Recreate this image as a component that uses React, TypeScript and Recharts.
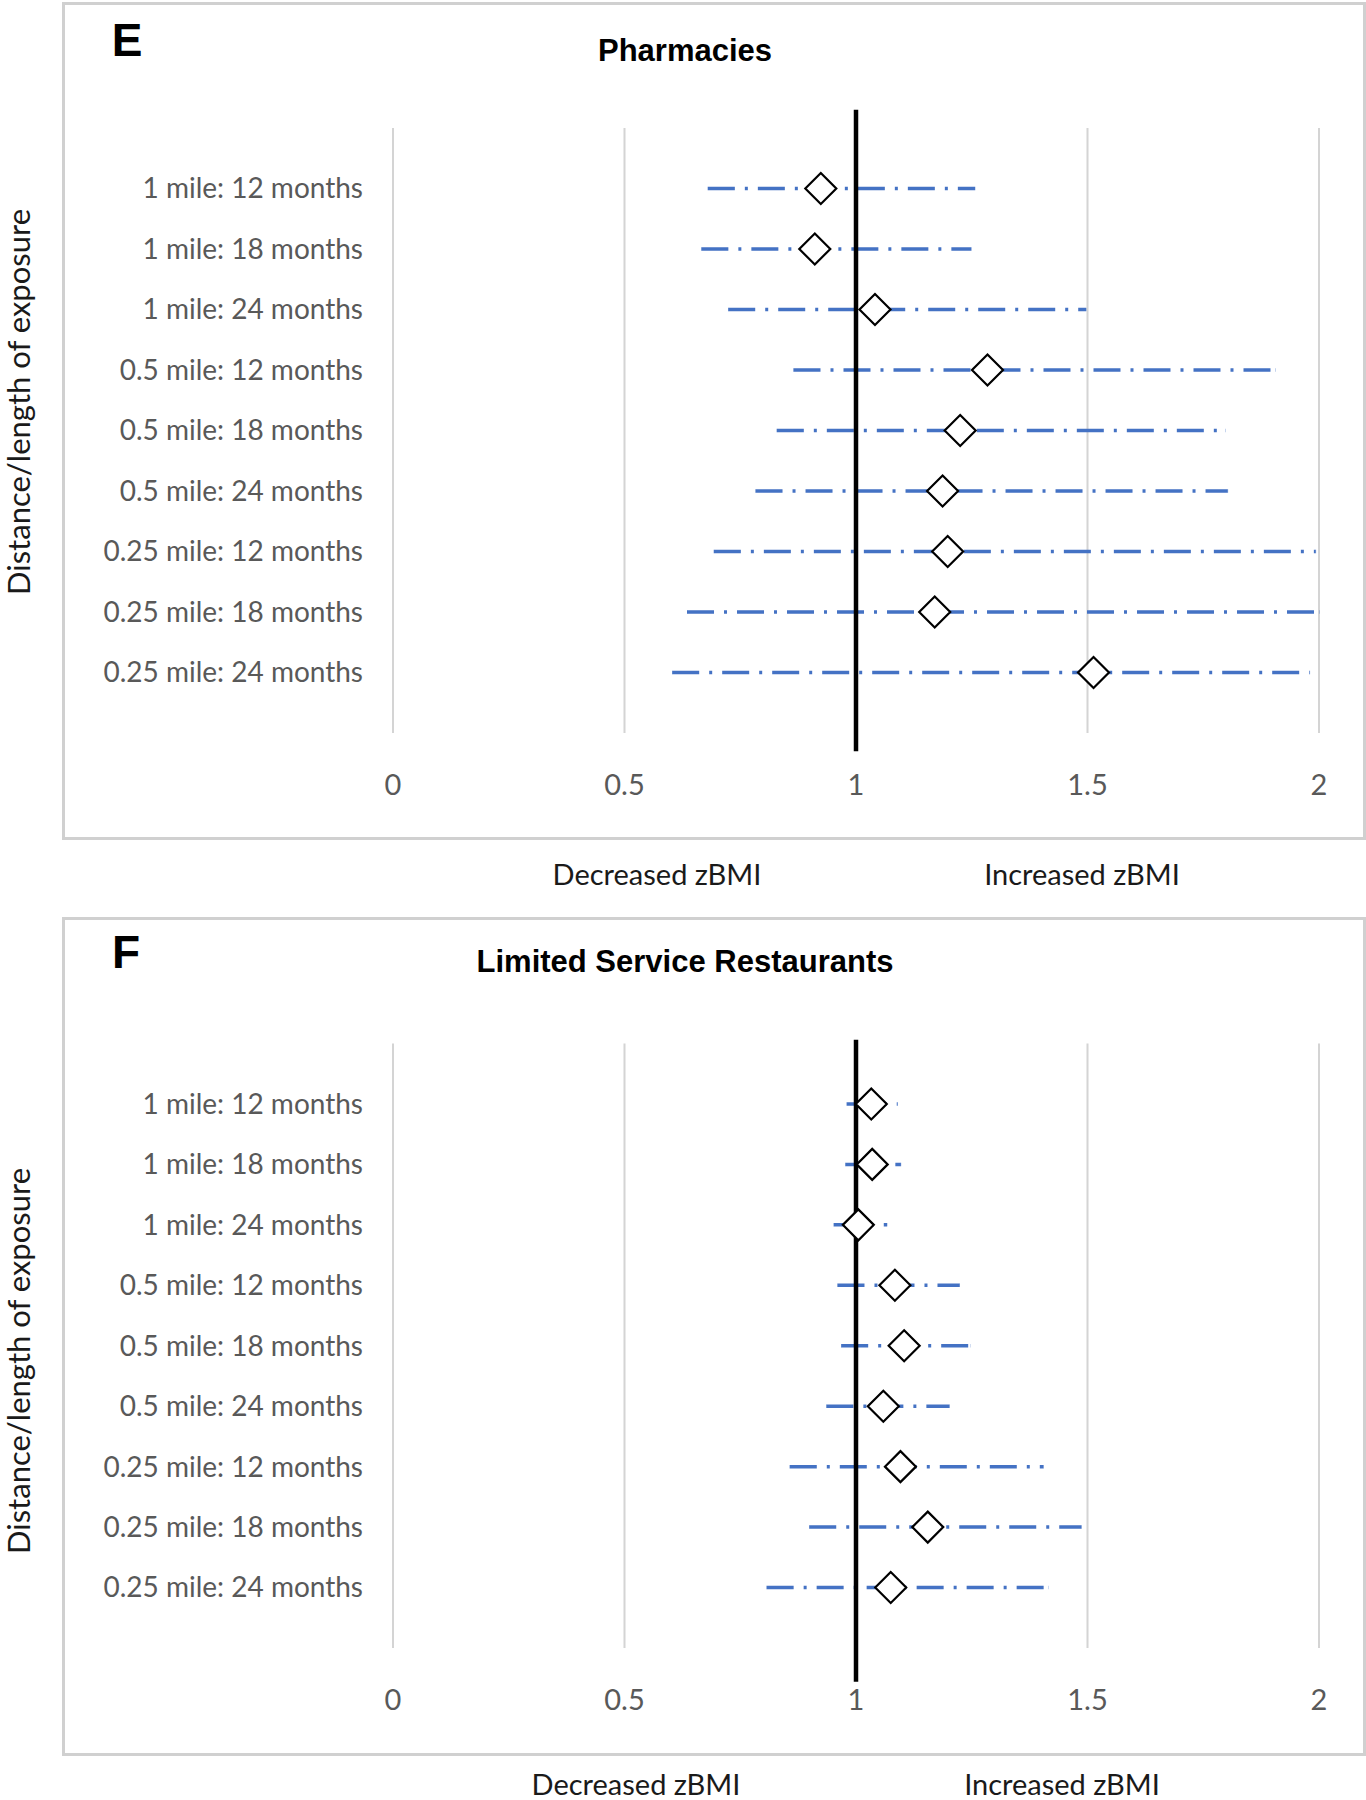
import React from 'react'
import { ScatterChart, Scatter, XAxis, YAxis, CartesianGrid, ErrorBar, ReferenceLine } from 'recharts'

// rows, top to bottom
const rowLabels = [
    '1 mile: 12 months',
    '1 mile: 18 months',
    '1 mile: 24 months',
    '0.5 mile: 12 months',
    '0.5 mile: 18 months',
    '0.5 mile: 24 months',
    '0.25 mile: 12 months',
    '0.25 mile: 18 months',
    '0.25 mile: 24 months',
]
const rowPositions = [9, 8, 7, 6, 5, 4, 3, 2, 1]
const xTicks = [0, 0.5, 1, 1.5, 2]

// E - Pharmacies
const pharmEst = [0.924, 0.911, 1.041, 1.284, 1.225, 1.187, 1.198, 1.17, 1.513]
const pharmLow = [0.68, 0.666, 0.724, 0.865, 0.829, 0.783, 0.693, 0.635, 0.603]
const pharmHigh = [1.257, 1.249, 1.497, 1.906, 1.798, 1.803, 1.993, 2.0, 1.98]

// F - Limited Service Restaurants
const lsrEst = [1.033, 1.035, 1.005, 1.084, 1.104, 1.059, 1.096, 1.155, 1.075]
const lsrLow = [0.98, 0.977, 0.952, 0.96, 0.968, 0.936, 0.857, 0.899, 0.807]
const lsrHigh = [1.09, 1.097, 1.067, 1.224, 1.247, 1.202, 1.405, 1.487, 1.415]

const buildRows = (est: number[], low: number[], high: number[]) =>
    est.map((v, i) => ({
        x: v,
        y: rowPositions[i],
        err: [v - low[i], high[i] - v],
    }))

const yTickFont = { fill: '#595959', fontSize: 28, fontFamily: 'Lato' }
const xTickFont = { fill: '#595959', fontSize: 29, fontFamily: 'Lato' }

const Diamond = (props: any) => {
    const { cx, cy } = props
    const r = 15.5
    return (
        <path
            d={`M${cx},${cy - r}L${cx + r},${cy}L${cx},${cy + r}L${cx - r},${cy}Z`}
            fill='#fff'
            stroke='#000'
            strokeWidth={2.2}
        />
    )
}

type PanelProps = {
    top: number
    marginTop: number
    marginBottom: number
    data: { x: number; y: number; err: number[] }[]
    refTop: number
    refBottom: number
}

function Panel({ top, marginTop, marginBottom, data, refTop, refBottom }: PanelProps) {
    return (
        <div style={{ position: 'absolute', left: 0, top }}>
            <ScatterChart
                width={1366}
                height={900}
                margin={{ top: marginTop, right: 47, bottom: marginBottom, left: 0 }}
            >
                <CartesianGrid horizontal={false} stroke='#d4d4d4' strokeWidth={2} />
                <XAxis
                    type='number'
                    dataKey='x'
                    domain={[0, 2]}
                    ticks={xTicks}
                    allowDataOverflow
                    axisLine={false}
                    tickLine={false}
                    tickSize={0}
                    tickMargin={41}
                    height={60}
                    tick={xTickFont}
                />
                <YAxis
                    type='number'
                    dataKey='y'
                    domain={[0, 10]}
                    ticks={rowPositions}
                    interval={0}
                    allowDataOverflow
                    axisLine={false}
                    tickLine={false}
                    tickSize={0}
                    tickMargin={30}
                    width={393}
                    tick={yTickFont}
                    tickFormatter={(v) => rowLabels[9 - v]}
                />
                <Scatter data={data} shape={Diamond} isAnimationActive={false}>
                    <ErrorBar
                        dataKey='err'
                        direction='x'
                        width={0}
                        stroke='#4472C4'
                        strokeWidth={3.5}
                        strokeDasharray='27 10 3 10'
                        isAnimationActive={false}
                    />
                </Scatter>
                <ReferenceLine
                    segment={[
                        { x: 1, y: refBottom },
                        { x: 1, y: refTop },
                    ]}
                    ifOverflow='visible'
                    stroke='#000'
                    strokeWidth={4.5}
                />
            </ScatterChart>
        </div>
    )
}

const Txt = ({ x, y, size, children, bold, family, color, rotate }: any) => (
    <div
        style={{
            position: 'absolute',
            left: x,
            top: y,
            transform: `translate(-50%, -50%)${rotate ? ' rotate(-90deg)' : ''}`,
            fontSize: size,
            fontWeight: bold ? 700 : 400,
            fontFamily: family || 'Lato',
            color: color || '#1a1a1a',
            whiteSpace: 'nowrap',
            lineHeight: 1,
        }}
    >
        {children}
    </div>
)

const box = (top: number, height: number): React.CSSProperties => ({
    position: 'absolute',
    left: 62,
    top,
    width: 1304,
    height,
    border: '3px solid #d0d0d0',
    boxSizing: 'border-box',
})

export default function App() {
    const pharmRows = buildRows(pharmEst, pharmLow, pharmHigh)
    const lsrRows = buildRows(lsrEst, lsrLow, lsrHigh)
    return (
        <div
            style={{
                position: 'absolute',
                left: 0,
                top: 0,
                width: 1366,
                height: 1800,
                overflow: 'hidden',
                background: '#fff',
            }}
        >
            <div style={box(2, 838)} />
            <div style={box(917, 839)} />

            <Panel top={0} marginTop={128} marginBottom={107} data={pharmRows} refTop={10.3} refBottom={-0.3} />
            <Panel top={900} marginTop={143.5} marginBottom={92} data={lsrRows} refTop={10.06} refBottom={-0.56} />

            <Txt x={127} y={40} size={46} bold family='Liberation Sans' color='#000'>E</Txt>
            <Txt x={685} y={50} size={31} bold family='Liberation Sans' color='#000'>Pharmacies</Txt>
            <Txt x={18} y={402} size={31} rotate>Distance/length of exposure</Txt>
            <Txt x={657} y={873} size={29}>Decreased zBMI</Txt>
            <Txt x={1082} y={873} size={29}>Increased zBMI</Txt>

            <Txt x={126} y={952} size={46} bold family='Liberation Sans' color='#000'>F</Txt>
            <Txt x={685} y={961} size={31} bold family='Liberation Sans' color='#000'>Limited Service Restaurants</Txt>
            <Txt x={18} y={1361} size={31} rotate>Distance/length of exposure</Txt>
            <Txt x={636} y={1783} size={29}>Decreased zBMI</Txt>
            <Txt x={1062} y={1783} size={29}>Increased zBMI</Txt>
        </div>
    )
}
